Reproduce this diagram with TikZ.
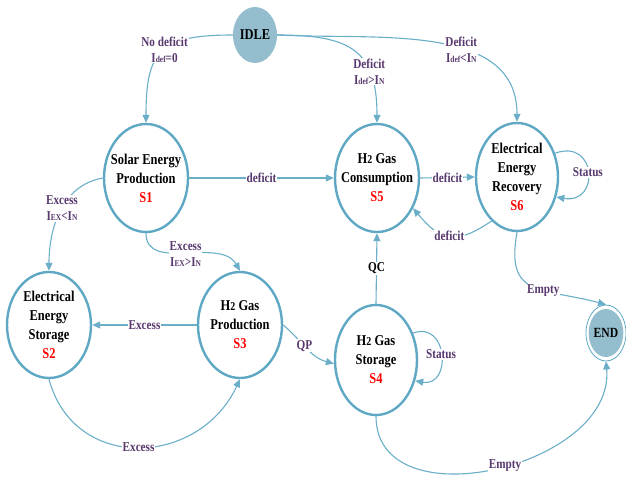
\documentclass[tikz,border=0pt]{standalone}
\usepackage{fontspec}
\setmainfont{Liberation Serif}[FakeStretch=0.83]
\usetikzlibrary{shapes.geometric,arrows.meta}
\definecolor{edgec}{RGB}{106,174,200}
\definecolor{bordc}{RGB}{94,168,196}
\definecolor{fillc}{RGB}{148,190,206}
\definecolor{lblc}{RGB}{88,56,110}
\newcommand{\sm}[1]{{\fontsize{9}{9}\selectfont #1}}
\newcommand{\Sx}[1]{\textcolor{red}{#1}}
\tikzset{
  stbox/.style={ellipse, draw=bordc, line width=2.4pt, fill=white,
    minimum width=84pt, minimum height=108pt, inner sep=-14pt,
    align=center, font=\fontsize{15}{19}\selectfont\bfseries},
  lbl/.style={fill=white, inner sep=1pt, text=lblc,
    font=\fontsize{13.5}{16}\selectfont\bfseries, align=center},
  conn/.style={draw=edgec, line width=1.1pt,
    -{Triangle[length=8pt,width=7pt]}},
}
\begin{document}
\begin{tikzpicture}[x=1pt,y=1pt]
\useasboundingbox (0,0) rectangle (626,-481);

\node[ellipse, fill=fillc, minimum width=44pt, minimum height=56pt, inner sep=0pt,
  font=\fontsize{15}{16}\selectfont\bfseries] (IDLE) at (255,-35) {IDLE};

\node[stbox] (S1) at (146,-178) {Solar Energy\\Production\\\Sx{S1}};
\node[stbox] (S5) at (377,-178) {H{\fontsize{12}{12}\selectfont 2} Gas\\Consumption\\\Sx{S5}};
\node[stbox, minimum width=82pt] (S6) at (517,-177) {Electrical\\Energy\\Recovery\\\Sx{S6}};
\node[stbox, minimum height=106pt] (S2) at (49,-325) {Electrical\\Energy\\Storage\\\Sx{S2}};
\node[stbox, minimum height=106pt] (S3) at (240,-325) {H{\fontsize{12}{12}\selectfont 2} Gas\\Production\\\Sx{S3}};
\node[stbox, minimum width=82pt, minimum height=110pt] (S4) at (376,-360) {H{\fontsize{12}{12}\selectfont 2} Gas\\Storage\\\Sx{S4}};

\node[ellipse, draw=bordc, line width=0.8pt, minimum width=40pt, minimum height=56pt, inner sep=0pt] (END) at (606,-333) {};
\node[ellipse, fill=fillc, minimum width=33pt, minimum height=48pt, inner sep=0pt,
  font=\fontsize{14}{15}\selectfont\bfseries] (ENDin) at (606,-333) {END};

% connectors
\draw[conn] (IDLE.west) to[out=180,in=90,looseness=1.5]
  node[lbl,pos=.47] (l1) {No deficit\\I\sm{def}=0} (S1.north);
\draw[conn] (IDLE.east) to[out=0,in=90,looseness=1.4]
  node[lbl,pos=.7] (l2) {Deficit\\I\sm{def}>I\sm{N}} (S5.north);
\draw[conn] (IDLE.east) to[out=-3,in=90]
  node[lbl,pos=.6] (l3) {Deficit\\I\sm{def}<I\sm{N}} (S6.north);
\draw[conn] (S1.east) -- node[lbl] (l4) {deficit} (S5.west);
\draw[conn] (S5.east) -- node[lbl] (l5) {deficit} (S6.west);
\draw[conn] (S6.240) to[out=214,in=-50,looseness=1.4]
  node[lbl] (l6) {deficit} (S5.-40);
\draw[conn] (S6.32) to[out=20,in=-10,looseness=2.6]
  node[lbl] (l7) {Status} (S6.-27);
\draw[conn] (S6.south) to[out=-100,in=165,looseness=1.5]
  node[lbl,pos=.6] (l8) {Empty} (END.north);
\draw[conn] (S1.west) to[out=190,in=90]
  node[lbl,pos=.47] (l9) {Excess\\I\sm{EX}<I\sm{N}} (S2.north);
\draw[conn] (S1.south) to[out=-90,in=120]
  node[lbl] (l10) {Excess\\I\sm{EX}>I\sm{N}} (S3.north);
\draw[conn] (S3.west) -- node[lbl] (l11) {Excess} (S2.east);
\draw[conn] (S2.south) to[out=-75,in=-115,looseness=1.3]
  node[lbl] (l12) {Excess} (S3.south);
\draw[conn] (S3.east) to[out=-40,in=165]
  node[lbl,pos=.45] (l13) {QP} (S4.185);
\draw[conn] (S4.north) -- node[lbl,text=black] (l14) {QC} (S5.south);
\draw[conn] (S4.36) to[out=20,in=-10,looseness=2]
  node[lbl] (l15) {Status} (S4.-28);
\draw[conn] (S4.south) to[out=-90,in=-85,looseness=1.15]
  node[lbl,pos=.53] (l16) {Empty} (END.south);
\end{tikzpicture}
\end{document}
